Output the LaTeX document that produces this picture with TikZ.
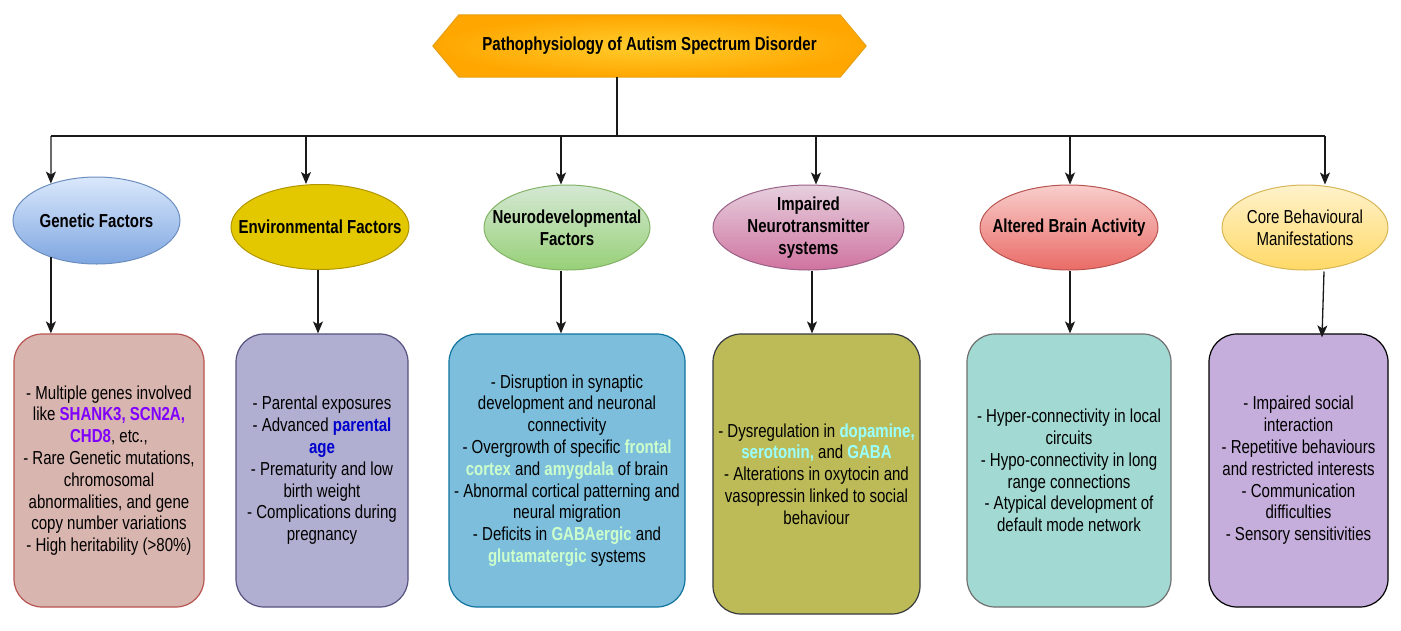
\documentclass[tikz,border=0pt]{standalone}
\usepackage{fontspec}
\setmainfont{Liberation Sans}[FakeStretch=0.8]
\usetikzlibrary{arrows.meta,shapes.geometric,backgrounds}
\definecolor{gene}{HTML}{7F00FF}
\definecolor{pblue}{HTML}{0000CC}
\definecolor{lgreen}{HTML}{CCFFCC}
\definecolor{lcyan}{HTML}{99FFFF}
\definecolor{ln}{HTML}{1A1A1A}
\newcommand{\hgene}[1]{\textbf{\textcolor{gene}{#1}}}
\newcommand{\hblue}[1]{\textbf{\textcolor{pblue}{#1}}}
\newcommand{\hgreen}[1]{\textbf{\textcolor{lgreen}{#1}}}
\newcommand{\hcyan}[1]{\textbf{\textcolor{lcyan}{#1}}}
\tikzset{
  txt/.style={font=\fontsize{18.8}{21.8}\selectfont, align=center, text=black},
  ell/.style={ellipse, inner sep=0pt, line width=1pt},
  lbl/.style={txt, inner sep=0pt},
  box/.style={txt, rectangle, rounded corners=28pt, inner sep=0pt, line width=1.2pt},
  conn/.style={draw=ln, line width=1.3pt},
  arr/.style={conn, -{Stealth[length=12pt,width=10pt,inset=3pt]}},
}
\begin{document}
\begin{tikzpicture}[x=1pt,y=-1pt]
\useasboundingbox (0,0) rectangle (1401,630);

% title
\node[txt, minimum width=381pt, minimum height=62pt, inner sep=0pt] (title) at (649.5,46)
  {\bfseries Pathophysiology of Autism Spectrum Disorder};
\begin{scope}[on background layer]
\path[draw={rgb,255:red,230;green,160;blue,20}, line width=1pt, inner color={rgb,255:red,255;green,205;blue,45}, outer color={rgb,255:red,255;green,166;blue,0}]
  ([xshift=-26pt]title.west) -- (title.north west) -- (title.north east)
  -- ([xshift=26pt]title.east) -- (title.south east) -- (title.south west) -- cycle;
\end{scope}

% ellipses
\node[ell, minimum width=167pt, minimum height=87pt, draw={rgb,255:red,108;green,142;blue,191},
  top color={rgb,255:red,218;green,232;blue,252}, bottom color={rgb,255:red,126;green,166;blue,224}]
  (e1) at (96.5,220.5) {};
\node[lbl] (l1) at (e1) {\bfseries Genetic Factors};
\node[ell, minimum width=178pt, minimum height=85pt, draw={rgb,255:red,176;green,149;blue,0},
  fill={rgb,255:red,227;green,200;blue,0}]
  (e2) at (320,227) {};
\node[lbl] (l2) at (e2) {\bfseries Environmental Factors};
\node[ell, minimum width=166pt, minimum height=85pt, draw={rgb,255:red,130;green,179;blue,102},
  top color={rgb,255:red,213;green,232;blue,212}, bottom color={rgb,255:red,151;green,208;blue,119}]
  (e3) at (567,227.5) {};
\node[lbl] (l3) at (e3) {\bfseries Neurodevelopmental\\\bfseries Factors};
\node[ell, minimum width=191pt, minimum height=85pt, draw={rgb,255:red,153;green,97;blue,133},
  top color={rgb,255:red,230;green,208;blue,222}, bottom color={rgb,255:red,208;green,115;blue,160}]
  (e4) at (808.5,227.5) {};
\node[lbl] (l4) at (e4) {\bfseries Impaired\\\bfseries Neurotransmitter\\\bfseries systems};
\node[ell, minimum width=178pt, minimum height=85pt, draw={rgb,255:red,184;green,84;blue,80},
  top color={rgb,255:red,248;green,206;blue,204}, bottom color={rgb,255:red,234;green,107;blue,102}]
  (e5) at (1069,227.5) {};
\node[lbl] (l5) at (e5) {\bfseries Altered Brain Activity};
\node[ell, minimum width=166pt, minimum height=85pt, draw={rgb,255:red,214;green,182;blue,86},
  top color={rgb,255:red,255;green,242;blue,204}, bottom color={rgb,255:red,255;green,217;blue,102}]
  (e6) at (1305,227.5) {};
\node[lbl] (l6) at (e6) {Core Behavioural\\Manifestations};

% boxes
\node[box, minimum width=190pt, minimum height=273pt, draw={rgb,255:red,184;green,84;blue,80},
  fill={rgb,255:red,217;green,181;blue,175}] (b1) at (109,470.5)
  {- Multiple genes involved\\like \hgene{SHANK3, SCN2A,}\\\hgene{CHD8}, etc.,\\- Rare Genetic mutations,\\chromosomal\\abnormalities, and gene\\copy number variations\\- High heritability (>80\%)};
\node[box, minimum width=172pt, minimum height=273pt, draw={rgb,255:red,86;green,81;blue,126},
  fill={rgb,255:red,177;green,175;blue,209}] (b2) at (322,470.5)
  {- Parental exposures\\- Advanced \hblue{parental}\\\hblue{age}\\- Prematurity and low\\birth weight\\- Complications during\\pregnancy};
\node[box, minimum width=236pt, minimum height=273pt, draw={rgb,255:red,16;green,115;blue,158},
  fill={rgb,255:red,124;green,190;blue,219}] (b3) at (567,470.5)
  {- Disruption in synaptic\\development and neuronal\\connectivity\\- Overgrowth of specific \hgreen{frontal}\\\hgreen{cortex} and \hgreen{amygdala} of brain\\- Abnormal cortical patterning and\\neural migration\\- Deficits in \hgreen{GABAergic} and\\\hgreen{glutamatergic} systems};
\node[box, minimum width=207pt, minimum height=280pt, draw={rgb,255:red,54;green,57;blue,61},
  fill={rgb,255:red,189;green,187;blue,88}] (b4) at (816.5,474)
  {- Dysregulation in \hcyan{dopamine,}\\\hcyan{serotonin,} and \hcyan{GABA}\\- Alterations in oxytocin and\\vasopressin linked to social\\behaviour};
\node[box, minimum width=204pt, minimum height=273pt, draw={rgb,255:red,111;green,111;blue,111},
  fill={rgb,255:red,162;green,218;blue,211}] (b5) at (1069,470.5)
  {- Hyper-connectivity in local\\circuits\\- Hypo-connectivity in long\\range connections\\- Atypical development of\\default mode network};
\node[box, minimum width=179pt, minimum height=273pt, draw=black,
  fill={rgb,255:red,198;green,174;blue,220}] (b6) at (1298.5,470.5)
  {- Impaired social\\interaction\\- Repetitive behaviours\\and restricted interests\\- Communication\\difficulties\\- Sensory sensitivities};

% bus
\coordinate (bus) at (617,136);
\coordinate (t1) at (51,136);
\coordinate (t2) at (306,136);
\coordinate (t3) at (561,136);
\coordinate (t4) at (816,136);
\coordinate (t5) at (1070,136);
\coordinate (t6) at (1325,136);
\draw[conn] (title.south -| bus) -- (bus);
\draw[conn] (t1) -- (t6);
\draw[arr] (t1) -- (e1.141);
\draw[arr] (t2) -- (t2 |- e2.north);
\draw[arr] (t3) -- (t3 |- e3.north);
\draw[arr] (t4) -- (t4 |- e4.north);
\draw[arr] (t5) -- (t5 |- e5.north);
\draw[arr] (t6) -- (t6 |- e6.north);

% lower arrows
\draw[arr] (e1.219) -- (e1.219 |- b1.north);
\draw[arr] ([xshift=-2pt]e2.south) -- ([xshift=-2pt]e2.south |- b2.north);
\draw[arr] ([xshift=-6pt]e3.south) -- ([xshift=-6pt]e3.south |- b3.north);
\draw[arr] ([xshift=3.5pt]e4.south) -- ([xshift=3.5pt]e4.south |- b4.north);
\draw[arr] (e5.south -| t5) -- (t5 |- b5.north);
\draw[arr] ([xshift=19pt,yshift=-1pt]e6.south) -- ([xshift=23.5pt,yshift=-4pt]b6.north);
\end{tikzpicture}
\end{document}
